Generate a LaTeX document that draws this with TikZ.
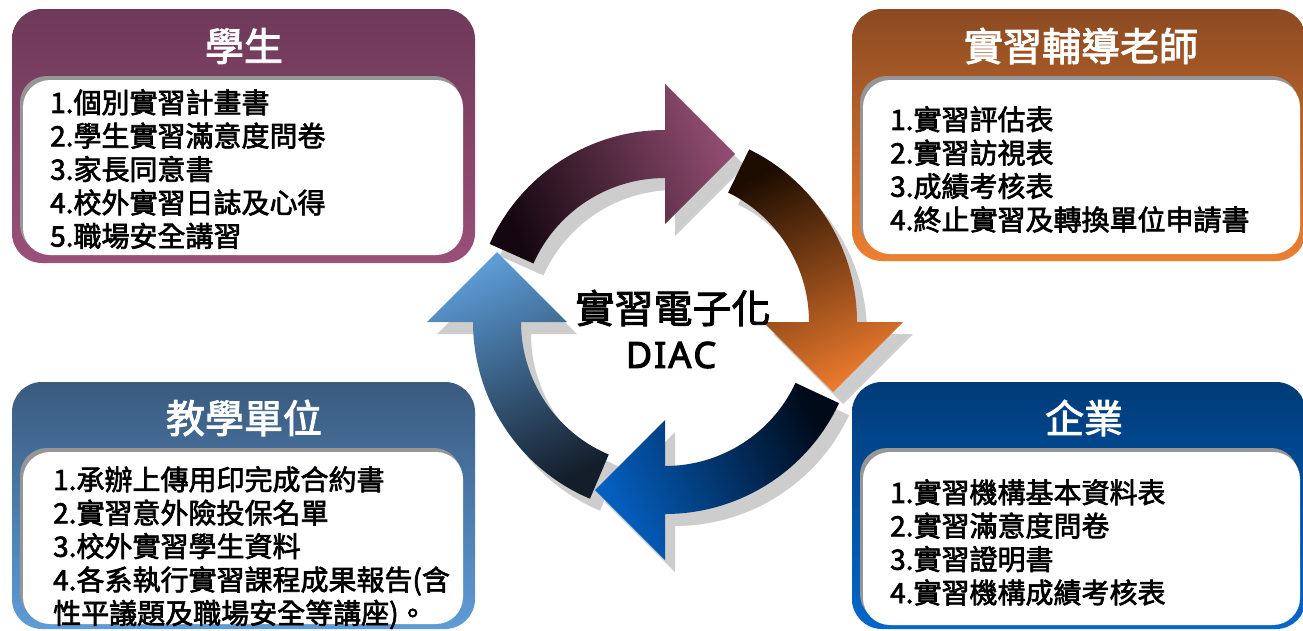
\documentclass[tikz,border=0pt]{standalone}
\usepackage{fontspec}
\setmainfont{Noto Sans CJK TC}[FakeBold=2.4]
\newfontfamily\latinsans{Noto Sans}[FakeBold=3.2]
\usetikzlibrary{calc}
\definecolor{tlTop}{HTML}{6E3958}
\definecolor{tlBot}{HTML}{9A5078}
\definecolor{trTop}{HTML}{8B4A22}
\definecolor{trBot}{HTML}{EC7F32}
\definecolor{blTop}{HTML}{3A5A7E}
\definecolor{blBot}{HTML}{5E9CD8}
\definecolor{brTop}{HTML}{003B77}
\definecolor{brBot}{HTML}{0567CC}
\definecolor{purDark}{HTML}{14070F}
\definecolor{purLight}{HTML}{904C70}
\definecolor{oraDark}{HTML}{1C0C00}
\definecolor{oraLight}{HTML}{E9792D}
\definecolor{navDark}{HTML}{000A18}
\definecolor{navLight}{HTML}{0560C2}
\definecolor{bluDark}{HTML}{141E2A}
\definecolor{bluLight}{HTML}{5C9BD5}
\definecolor{innerShadow}{RGB}{150,150,150}
\definecolor{arrShadow}{RGB}{205,205,205}
% arrow outline: #1 = head base angle, #2 = tail angle
\newcommand{\cyclearrowpath}[2]{%
  (#2:192) arc[start angle=#2, end angle=#1, radius=192]
  -- (#1:238) -- ($(#1:168)+(#1-90:70)$) -- (#1:98) -- (#1:144)
  arc[start angle=#1, end angle=#2, radius=144] -- cycle}
\tikzset{
  outerbox/.style={rounded corners=30pt},
  innershade/.style={fill=innerShadow, rounded corners=27pt},
  innerbox/.style={fill=white, rounded corners=27pt},
  titletext/.style={text=white, font=\fontsize{39}{44}\selectfont, inner sep=0pt},
  listtext/.style={font=\fontsize{28}{33.4}\selectfont, align=left, anchor=north west, inner sep=0pt},
  hubtext/.style={font=\fontsize{39}{44}\selectfont, inner sep=0pt},
  arrshadow/.style={fill=arrShadow},
}
\begin{document}
\begin{tikzpicture}[x=1pt,y=-1pt]
\useasboundingbox (0,0) rectangle (1303,630);
\fill[white] (0,0) rectangle (1303,630);

% ---------- boxes ----------
\shade[outerbox, top color=tlTop, bottom color=tlBot] (12,9) rectangle (475,263);
\fill[innershade] (20,76) rectangle (461,252);
\fill[innerbox] (23,80) rectangle (463,255);

\shade[outerbox, top color=trTop, bottom color=trBot] (852,9) rectangle (1306,261);
\fill[innershade] (860,76) rectangle (1298,250);
\fill[innerbox] (863,80) rectangle (1300,254);

\shade[outerbox, top color=blTop, bottom color=blBot] (12,382) rectangle (475,629);
\fill[innershade] (20,448) rectangle (461,620);
\fill[innerbox] (23,452) rectangle (463,624);

\shade[outerbox, top color=brTop, bottom color=brBot] (852,382) rectangle (1306,629);
\fill[innershade] (860,448) rectangle (1298,621);
\fill[innerbox] (863,452) rectangle (1300,625);

% ---------- titles ----------
\node[titletext] (tlTitle) at (244,46) {學生};
\node[titletext] (trTitle) at (1081,46) {實習輔導老師};
\node[titletext] (blTitle) at (244,418) {教學單位};
\node[titletext] (brTitle) at (1084,418) {企業};

% ---------- lists ----------
\node[listtext] (tlList) at (50,89) {1.個別實習計畫書\\2.學生實習滿意度問卷\\3.家長同意書\\4.校外實習日誌及心得\\5.職場安全講習};
\node[listtext] (trList) at (890,106) {1.實習評估表\\2.實習訪視表\\3.成績考核表\\4.終止實習及轉換單位申請書};
\node[listtext] (blList) at (53,466) {1.承辦上傳用印完成合約書\\2.實習意外險投保名單\\3.校外實習學生資料\\4.各系執行實習課程成果報告(含\\性平議題及職場安全等講座)。};
\node[listtext] (brList) at (890,479) {1.實習機構基本資料表\\2.實習滿意度問卷\\3.實習證明書\\4.實習機構成績考核表};

% ---------- cycle arrows ----------
\begin{scope}[shift={(665,322)}, y=1pt]
  \begin{scope}[shift={(10,-12)}]
    \fill[arrshadow] \cyclearrowpath{90}{156};
    \fill[arrshadow] \cyclearrowpath{0}{64};
    \fill[arrshadow] \cyclearrowpath{-90}{-25};
    \fill[arrshadow] \cyclearrowpath{180}{247};
  \end{scope}
  \shade[top color=purLight, bottom color=purDark, shading angle=-67] \cyclearrowpath{90}{156};
  \shade[top color=oraLight, bottom color=oraDark, shading angle=-155] \cyclearrowpath{0}{64};
  \shade[top color=navLight, bottom color=navDark, shading angle=115] \cyclearrowpath{-90}{-25};
  \shade[top color=bluLight, bottom color=bluDark, shading angle=25] \cyclearrowpath{180}{247};
\end{scope}

% ---------- hub text ----------
\node[hubtext] (hubA) at (673,308) {實習電子化};
\node[inner sep=0pt, font=\latinsans\fontsize{36}{40}\selectfont] (hubB) at (671,355) {D\kern2pt I\kern2pt A\kern2pt C};
\end{tikzpicture}
\end{document}
